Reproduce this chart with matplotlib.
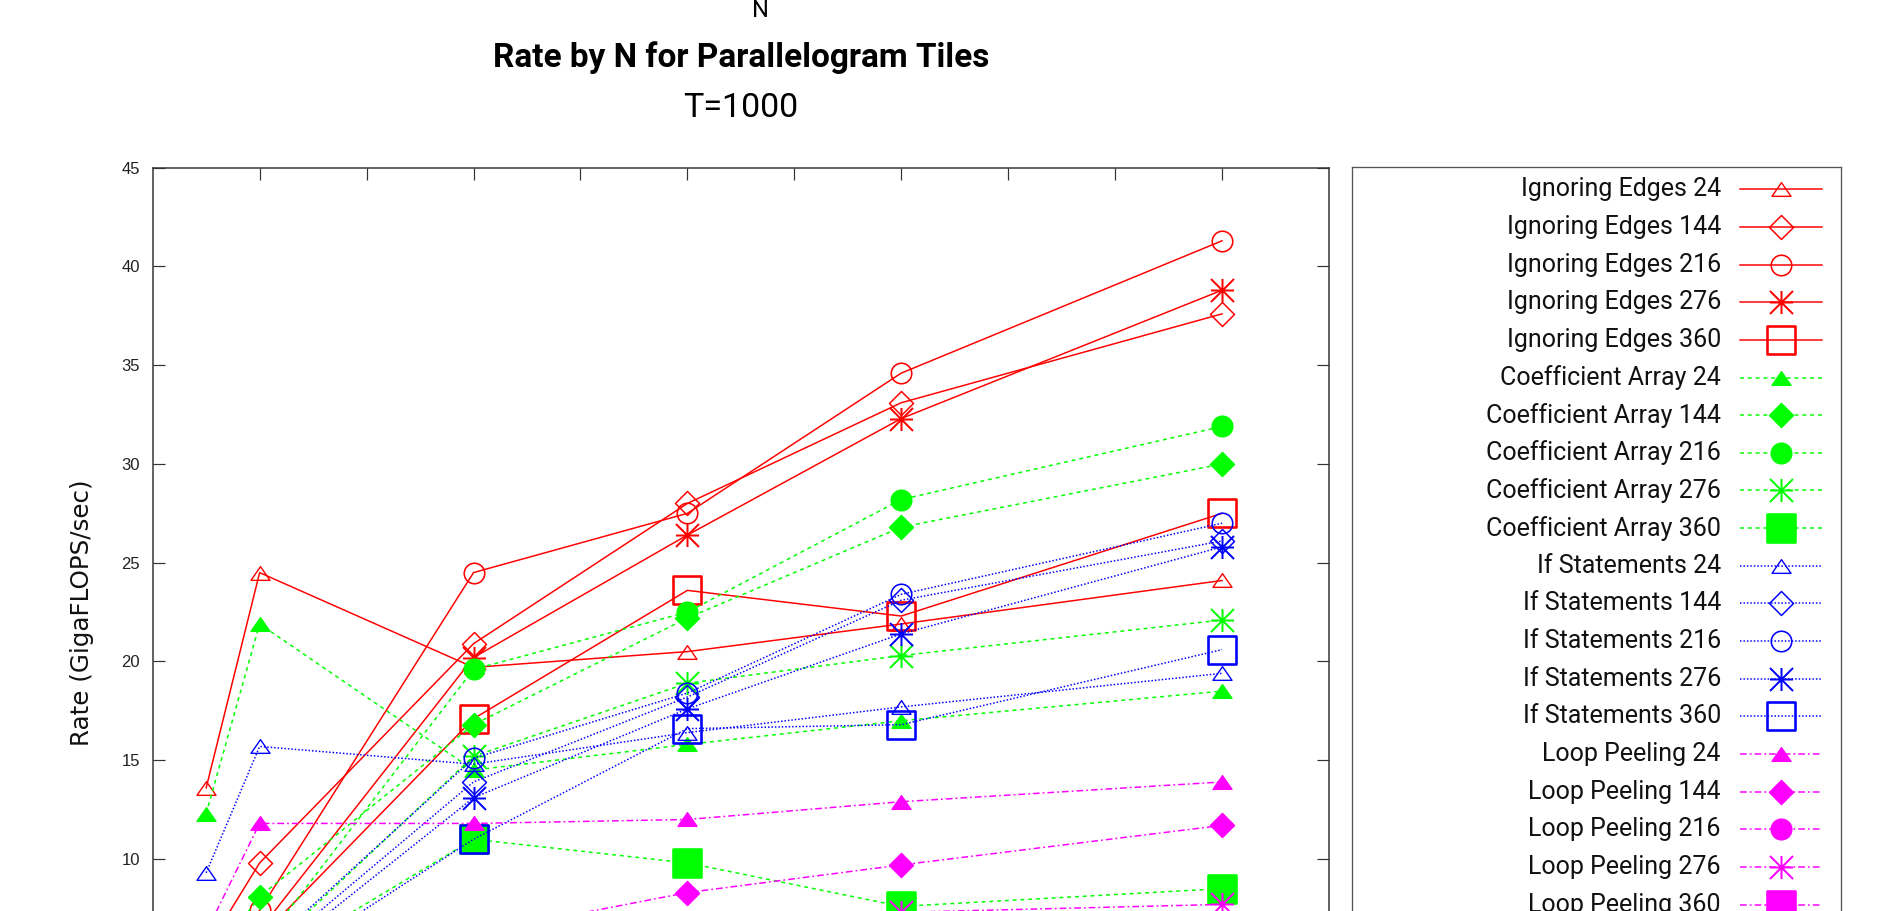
import numpy as np
import matplotlib.pyplot as plt
from matplotlib.path import Path

# problem sizes (N) that were run
n_vals = [500, 1000, 3000, 5000, 7000, 10000]

# rate in GigaFLOPS/sec, one list per method and tile size
ignoring_24 = [13.6, 24.5, 19.7, 20.5, 21.9, 24.1]
ignoring_144 = [5.4, 9.8, 20.9, 28.0, 33.1, 37.6]
ignoring_216 = [4.2, 7.4, 24.5, 27.5, 34.6, 41.3]
ignoring_276 = [3.8, 6.4, 20.2, 26.4, 32.3, 38.8]
ignoring_360 = [3.3, 6.0, 17.1, 23.6, 22.3, 27.5]
coeff_24 = [12.3, 21.9, 14.5, 15.8, 17.0, 18.5]
coeff_144 = [4.5, 8.1, 16.8, 22.2, 26.8, 30.0]
coeff_216 = [3.2, 5.5, 19.6, 22.5, 28.2, 31.9]
coeff_276 = [2.9, 5.0, 15.2, 18.9, 20.3, 22.1]
coeff_360 = [2.6, 4.5, 11.0, 9.8, 7.6, 8.5]
if_24 = [9.3, 15.7, 14.8, 16.4, 17.7, 19.4]
if_144 = [2.8, 4.8, 13.9, 18.2, 23.1, 26.1]
if_216 = [3.0, 5.2, 15.1, 18.4, 23.4, 27.0]
if_276 = [2.6, 4.5, 13.1, 17.6, 21.4, 25.8]
if_360 = [2.3, 4.0, 11.0, 16.6, 16.8, 20.6]
peel_24 = [6.3, 11.8, 11.8, 12.0, 12.9, 13.9]
peel_144 = [3.9, 5.0, 6.2, 8.3, 9.7, 11.7]
peel_216 = [3.0, 3.9, 4.8, 5.4, 5.9, 6.4]
peel_276 = [3.4, 4.6, 5.8, 6.6, 7.3, 7.7]
peel_360 = [2.5, 3.3, 4.1, 4.7, 5.2, 5.6]

tile_sizes = [24, 144, 216, 276, 360]
methods = ['Ignoring Edges', 'Coefficient Array', 'If Statements', 'Loop Peeling']
rates = [[ignoring_24, ignoring_144, ignoring_216, ignoring_276, ignoring_360],
         [coeff_24, coeff_144, coeff_216, coeff_276, coeff_360],
         [if_24, if_144, if_216, if_276, if_360],
         [peel_24, peel_144, peel_216, peel_276, peel_360]]

DPI = 100
px = 72.0 / DPI  # pixels -> points


def closed(verts):
    return Path(list(verts) + [verts[0]], closed=True)


# gnuplot style point types
tri = closed([(0, 0.72), (-1, -0.72), (1, -0.72)])
diamond = closed([(0, 1), (1, 0), (0, -1), (-1, 0)])
square = closed([(-1, -1), (1, -1), (1, 1), (-1, 1)])
star = Path([(0, -1), (0, 1), (-1, 0), (1, 0), (-1, -1), (1, 1), (-1, 1), (1, -1)],
            [Path.MOVETO, Path.LINETO] * 4)

# marker, size in px, edge width in px
marks = {24: (tri, 19, 1.4), 144: (diamond, 24, 1.5), 216: ('o', 20.5, 1.6),
         276: (star, 23, 2.0), 360: (square, 28, 2.6)}

styles = [('#ff0000', '-', False),
          ('#00ff00', (0, (2.6, 2.6)), True),
          ('#0000ff', (0, (1.0, 1.3)), False),
          ('#ff00ff', (0, (4.5, 2.0, 1.2, 2.0)), True)]

fig = plt.figure(figsize=(18.91, 9.11), dpi=DPI)
ax = fig.add_axes([152.7 / 1891, (911 - 1056.5) / 911, (1329 - 152.7) / 1891, (1056.5 - 167.7) / 911])
leg = fig.add_axes([1352 / 1891, (911 - 926) / 911, 488.7 / 1891, 758.7 / 911])

row = 0
for mi, meth in enumerate(methods):
    col, ls, filled = styles[mi]
    for ti, ts in enumerate(tile_sizes):
        m, size, ew = marks[ts]
        kw = dict(color=col, lw=1.5 * px, ls=ls, marker=m, ms=size * px,
                  mec=col, mew=ew * px, mfc=col if filled else 'none')
        if filled and m is star:
            kw['mew'] = 2.0 * px
        ax.plot(n_vals, rates[mi][ti], **kw)

        # legend entry, drawn in pixel coordinates of the key box
        y = 22 + 37.65 * row
        leg.plot([387.5, 470], [y, y], color=col, lw=1.5 * px, ls=ls)
        leg.plot([429], [y], ls='none', marker=m, ms=size * px, mec=col,
                 mew=kw['mew'], mfc=col if filled else 'none')
        leg.text(369, y, '%s %d' % (meth, ts), ha='right', va='center',
                 family='Roboto', fontsize=18, color='#111111')
        row += 1

ax.set_xlim(0, 11000)
ax.set_ylim(0, 45)
ax.set_xticks(np.arange(1000, 11000, 1000))
ax.set_yticks(np.arange(0, 50, 5))
ax.tick_params(direction='in', length=12 * px, width=1.2 * px, color='#333333',
               top=True, right=True, labelsize=12, pad=9, labelbottom=False)
for lab in ax.get_yticklabels():
    lab.set_family('Liberation Sans')
    lab.set_color('#222222')
for sp in ax.spines.values():
    sp.set_color('#333333')
    sp.set_linewidth(1.5 * px)

leg.set_xlim(0, 488.7)
leg.set_ylim(758.7, 0)
leg.set_xticks([])
leg.set_yticks([])
for sp in leg.spines.values():
    sp.set_color('#555555')
    sp.set_linewidth(1.3 * px)

fig.text(760 / 1891, 1 - 17 / 911, 'N', ha='center', va='baseline',
         family='Roboto', fontsize=17)
fig.text(741 / 1891, 1 - 67 / 911, 'Rate by N for Parallelogram Tiles', ha='center',
         va='baseline', family='Roboto', fontweight='bold', fontsize=24)
fig.text(741 / 1891, 1 - 117 / 911, 'T=1000', ha='center', va='baseline',
         family='Roboto', fontsize=24.5)
fig.text(82 / 1891, 1 - 613 / 911, 'Rate (GigaFLOPS/sec)', rotation=90, ha='center',
         va='center', family='DejaVu Sans', fontsize=17.7, color='#111111')

fig.savefig('out.png', dpi=DPI)
